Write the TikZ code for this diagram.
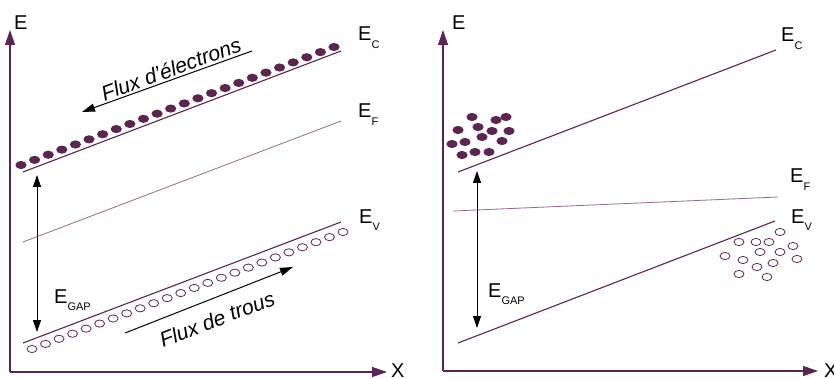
\documentclass[tikz,border=0pt]{standalone}
\usepackage{fontspec}
\setmainfont{Liberation Sans}
\usetikzlibrary{arrows.meta}
\definecolor{pdark}{RGB}{92,36,80}
\definecolor{plight}{RGB}{150,105,140}
\newcommand{\elab}[2]{E\raisebox{-7.5pt}{\fontsize{11}{11}\selectfont #2}}
\begin{document}
\begin{tikzpicture}[x=1pt,y=-1pt,
  axis/.style={draw=pdark,line width=1.1pt,-{Triangle[length=15pt,width=10pt]}},
  band/.style={draw=pdark,line width=1.1pt},
  fermi/.style={draw=plight,line width=0.8pt},
  flux/.style={draw=black,line width=1pt,-{Triangle[length=13pt,width=8pt]}},
  gap/.style={draw=black,line width=1pt,{Triangle[length=12pt,width=8pt]}-{Triangle[length=12pt,width=8pt]}},
  lab/.style={anchor=base west,inner sep=0pt,font=\fontsize{20}{20}\selectfont},
  fluxtxt/.style={inner sep=0pt,font=\fontsize{21}{21}\selectfont\itshape},
  electron/.style={fill=pdark},
  hole/.style={draw=pdark,line width=0.8pt}]
\useasboundingbox (0,0) rectangle (834,379);
% ---------- left panel ----------
\coordinate (O1) at (10,372);
\coordinate (Y1) at (10,30);
\coordinate (X1) at (387,372);
\draw[axis] (O1) -- (Y1);
\draw[axis] (O1) -- (X1);
\node[lab] (lE1) at (14,30) {E};
\node[lab] (lX1) at (391,377.5) {X};
\coordinate (c1a) at (23,172); \coordinate (c1b) at (341,51);
\coordinate (f1a) at (23,242); \coordinate (f1b) at (341,121);
\coordinate (v1a) at (23,343); \coordinate (v1b) at (341,222);
\draw[band] (c1a) -- (c1b);
\draw[fermi] (f1a) -- (f1b);
\draw[band] (v1a) -- (v1b);
\node[lab] (lC1) at (358,41) {\elab{E}{C}};
\node[lab] (lF1) at (358,118) {\elab{E}{F}};
\node[lab] (lV1) at (359,223) {\elab{E}{V}};
\foreach \i in {0,...,23}
  \fill[electron] ({21+\i*13.6087},{165-\i*5.1304}) ellipse (5.6 and 4.1);
\foreach \i in {0,...,23}
  \draw[hole] ({32+\i*13.5217},{349-\i*5.0870}) ellipse (5 and 3.6);
\coordinate (fe1) at (252,51); \coordinate (fe2) at (82,112);
\draw[flux] (fe1) -- (fe2);
\node[fluxtxt,rotate=20] (tfe) at (171,69) {Flux d’électrons};
\coordinate (ft1) at (125,333); \coordinate (ft2) at (293,267);
\draw[flux] (ft1) -- (ft2);
\node[fluxtxt,rotate=21] (tft) at (217,319) {Flux de trous};
\coordinate (g1a) at (37,175); \coordinate (g1b) at (37,332);
\draw[gap] (g1a) -- (g1b);
\node[lab] (lG1) at (54,303) {\elab{E}{GAP}};
% ---------- right panel ----------
\coordinate (O2) at (443,371);
\coordinate (Y2) at (443,30);
\coordinate (X2) at (818,371);
\draw[axis] (O2) -- (Y2);
\draw[axis] (O2) -- (X2);
\node[lab] (lE2) at (452,30) {E};
\node[lab] (lX2) at (824,377.5) {X};
\coordinate (c2a) at (458,172); \coordinate (c2b) at (776,50);
\coordinate (f2a) at (453,211); \coordinate (f2b) at (778,197);
\coordinate (v2a) at (458,343); \coordinate (v2b) at (775,221);
\draw[band] (c2a) -- (c2b);
\draw[fermi] (f2a) -- (f2b);
\draw[band] (v2a) -- (v2b);
\node[lab] (lC2) at (781,42) {\elab{E}{C}};
\node[lab] (lF2) at (790,183) {\elab{E}{F}};
\node[lab] (lV2) at (791,223) {\elab{E}{V}};
\foreach \x/\y in {472/117,496/120,506/117,458/130,478/127,492/131,509/131,465/142,482/137,502/141,452/144,462/155,475/152,489/152}
  \fill[electron] (\x,\y) ellipse (5.6 and 4.1);
\foreach \x/\y in {780/232,739/242,756/242,769/242,793/246,760/252,780/252,725/256,743/260,773/263,797/259,757/267,739/274,767/277}
  \draw[hole] (\x,\y) ellipse (5 and 3.6);
\coordinate (g2a) at (477,171); \coordinate (g2b) at (477,328);
\draw[gap] (g2a) -- (g2b);
\node[lab] (lG2) at (488,297) {\elab{E}{GAP}};
\end{tikzpicture}
\end{document}
